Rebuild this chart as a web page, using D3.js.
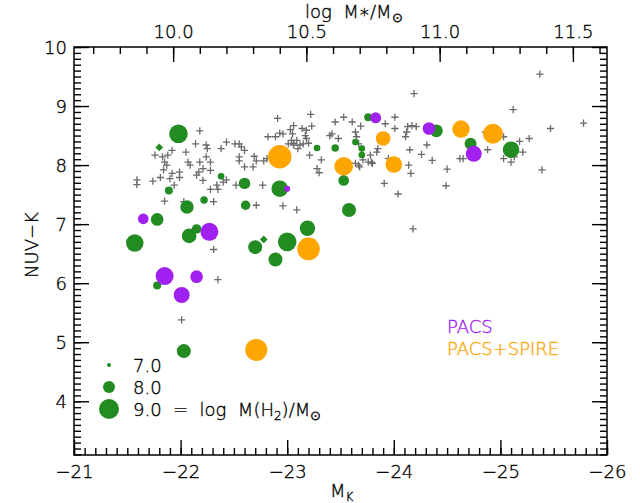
<!DOCTYPE html>
<html><head><meta charset="utf-8">
<script src="https://cdn.jsdelivr.net/npm/d3@7"></script>
<style>
body{margin:0;background:#fff}
svg{display:block}
text{font-family:"DejaVu Sans",sans-serif;font-size:18px;fill:#000;font-weight:300;white-space:pre;stroke:#000;stroke-width:0.35px}
</style>
</head><body>
<script>
// ---- data (M_K, NUV-K, log M(H2)) ----
const crossMK = [-22.18,-22.14,-22.24,-22.25,-22.43,-22.51,-22.55,-22.57,-22.60,-22.38,-22.05,-21.92,-21.76,-21.83,-21.88,-21.85,-21.87,-21.84,-21.92,-21.90,-21.81,-21.74,-21.59,-21.59,-21.94,-21.99,-21.99,-22.07,-22.09,-22.18,-22.24,-22.28,-22.21,-22.17,-22.15,-22.21,-22.28,-22.28,-22.35,-22.34,-22.40,-22.43,-22.52,-22.55,-22.55,-22.60,-22.68,-22.69,-22.71,-22.78,-22.81,-22.82,-22.89,-22.91,-22.77,-21.85,-22.03,-22.31,-22.71,-22.96,-23.09,-22.31,-22.35,-22.01,-23.22,-23.06,-23.03,-23.14,-23.18,-23.23,-22.93,-23.05,-23.17,-23.18,-23.09,-23.06,-23.01,-23.15,-23.20,-23.10,-23.06,-23.21,-23.32,-23.28,-23.30,-23.42,-23.45,-23.48,-23.53,-23.61,-23.69,-23.64,-23.65,-23.67,-23.64,-23.67,-23.71,-23.78,-23.79,-23.84,-23.85,-23.92,-24.01,-24.01,-23.95,-23.91,-24.04,-24.13,-24.17,-24.21,-24.12,-24.11,-24.15,-24.26,-24.31,-24.36,-24.14,-24.16,-24.50,-24.49,-24.19,-23.80,-24.18,-25.37,-25.12,-25.47,-25.78,-25.27,-25.18,-25.21,-25.13,-25.03,-25.10,-24.88,-24.62,-24.65,-25.39,-25.03,-24.86,-22.96,-23.04,-23.12,-23.40,-23.76,-23.68];
const crossNUVK = [8.58,8.36,8.34,8.28,8.39,8.36,8.36,8.31,8.25,8.28,8.22,8.25,8.17,8.14,8.17,8.05,8.00,7.92,7.86,7.77,7.79,7.73,7.75,7.67,7.66,7.88,7.79,8.05,8.00,8.05,8.14,8.05,7.94,7.88,7.83,7.74,7.91,7.59,7.59,7.66,7.71,7.75,7.66,8.14,8.07,7.97,7.97,8.15,8.07,8.07,8.11,8.48,8.48,8.79,7.66,7.39,7.38,7.38,7.32,7.31,7.24,6.57,6.06,5.38,8.86,8.67,8.60,8.62,8.59,8.66,8.54,8.53,8.50,8.45,8.42,8.37,8.36,8.36,8.37,8.28,8.34,8.17,8.09,7.94,7.87,8.53,8.73,8.45,8.81,8.73,8.66,8.56,8.48,8.36,8.03,8.00,8.09,8.17,8.05,8.22,8.28,8.70,8.81,8.62,8.11,7.69,7.51,8.65,8.67,8.65,8.56,8.48,8.26,8.18,8.34,8.08,8.00,7.86,7.93,7.65,9.21,8.03,6.92,9.54,8.94,8.62,8.71,8.45,8.40,8.22,8.14,8.11,8.05,8.26,8.11,8.11,7.92,8.48,8.56,8.53,8.42,8.34,8.50,8.05,7.97];

const greenMK   = [-21.98,-22.38,-21.89,-22.60,-22.06,-22.22,-22.61,-22.93,-23.76,-23.28,-23.45,-23.64,-23.70,-23.70,-24.40,-23.53,-23.58,-24.72,-25.10,-21.78,-21.57,-22.08,-22.15,-21.78,-22.03,-22.70,-23.00,-22.89,-23.19];
const greenNUVK = [8.53,7.81,7.57,7.69,7.29,7.41,7.32,7.60,8.81,8.29,8.29,8.39,8.28,8.17,8.58,7.74,7.24,8.36,8.26,7.08,6.68,6.80,6.92,5.96,4.85,6.61,6.70,6.40,6.93];
const greenH2   = [8.83,7.33,7.50,7.93,8.18,7.43,7.68,8.58,7.50,7.33,7.43,7.33,7.33,7.33,8.08,7.83,8.25,8.00,8.58,8.08,8.68,8.33,7.68,7.50,8.25,8.25,8.83,8.25,8.43];

const limMK   = [-21.80,-22.78];
const limNUVK = [8.30,6.74];

const purpleMK   = [-23.83,-24.33,-23.00,-24.75,-21.65,-22.27,-21.85,-22.15,-22.01];
const purpleNUVK = [8.80,8.62,7.60,8.19,7.09,6.87,6.12,6.11,5.80];
const purpleH2   = [7.88,8.08,7.25,8.50,7.83,8.75,8.75,8.08,8.50];

const orangeMK   = [-22.93,-23.90,-23.53,-24.00,-24.63,-24.93,-23.20,-22.71];
const orangeNUVK = [8.14,8.45,7.98,8.01,8.61,8.53,6.58,4.87];
const orangeH2   = [9.43,8.33,8.83,8.58,8.68,9.00,9.33,9.25];

const xMajor = [-21,-22,-23,-24,-25,-26];
const yMajor = [4,5,6,7,8,9,10];
const massMajor = [10.0,10.5,11.0,11.5];
const legendH2 = [7.0,8.0,9.0];

// ---- layout ----
const W=640,H=503,L=74,R=607,T=47,B=455;
const GREEN="#228B22",PURPLE="#A020F0",ORANGE="#FFA500",GREY="#6a6a6a";

const x = d3.scaleLinear().domain([-21,-26]).range([L,R]);
const y = d3.scaleLinear().domain([3.09,10]).range([B,T]);
const massAt = mk => 1.228 - 0.4*mk;
const xm = d3.scaleLinear().domain([massAt(-21),massAt(-26)]).range([L,R]);
const r = d3.scaleLinear().domain([7,9]).range([2,10]);

const svg = d3.select("body").append("svg").attr("width",W).attr("height",H);

const rnd = v => Math.round(v*10)/10;
const xMinor = d3.range(-21,-26.001,-0.1).map(rnd);
const yMinor = d3.range(3.1,10.001,0.1).map(rnd);
const mMinor = d3.range(9.7,11.62,0.1).map(rnd);

function tickAxis(gen, tx, ty, vals, len){
  const g = svg.append("g").attr("transform",`translate(${tx},${ty})`)
    .call(gen.tickValues(vals).tickSize(len).tickFormat(""));
  g.select(".domain").remove();
  g.selectAll("line").attr("stroke","#000").attr("stroke-width",1.4);
  return g;
}
tickAxis(d3.axisTop(x),0,B,xMinor,7);
tickAxis(d3.axisTop(x),0,B,xMajor,15);
tickAxis(d3.axisBottom(xm),0,T,mMinor,7);
tickAxis(d3.axisBottom(xm),0,T,massMajor,15);
tickAxis(d3.axisRight(y),L,0,yMinor,7);
tickAxis(d3.axisRight(y),L,0,yMajor,15);
tickAxis(d3.axisLeft(y),R,0,yMinor,7);
tickAxis(d3.axisLeft(y),R,0,yMajor,15);

function styleText(g){
  g.select(".domain").remove();
  g.selectAll("text").style("font-size","18px").style("font-family","DejaVu Sans")
    .style("font-weight","300").style("stroke","#000").style("stroke-width","0.35px");
}
const gb = svg.append("g").attr("transform",`translate(0,${B})`)
  .call(d3.axisBottom(x).tickValues(xMajor).tickSize(0).tickFormat(d=>"\u2212"+Math.abs(d)));
styleText(gb); gb.selectAll("text").attr("dy",null).attr("y",23);

const gt = svg.append("g").attr("transform",`translate(0,${T})`)
  .call(d3.axisTop(xm).tickValues(massMajor).tickSize(0).tickFormat(d3.format(".1f")));
styleText(gt); gt.selectAll("text").attr("dy",null).attr("y",-9);

const gl = svg.append("g").attr("transform",`translate(${L},0)`)
  .call(d3.axisLeft(y).tickValues(yMajor).tickSize(0).tickFormat(d3.format("d")));
styleText(gl); gl.selectAll("text").attr("x",-7).attr("dy","0.36em");

svg.append("rect").attr("x",L).attr("y",T).attr("width",R-L).attr("height",B-T)
  .attr("fill","none").attr("stroke","#000").attr("stroke-width",1.5);

// titles
const tt = svg.append("text").attr("x",305).attr("y",18);
tt.append("tspan").text("log  M\u2217/M");
tt.append("tspan").attr("dy",4).style("font-size","13px").text("\u2299");

const bt = svg.append("text").attr("x",330).attr("y",497);
bt.append("tspan").text("M");
bt.append("tspan").attr("dy",4).style("font-size","12px").text("K");

svg.append("text").attr("transform","translate(38,245) rotate(-90)")
  .attr("text-anchor","middle").text("NUV\u2212K");

// ---- marks ----
const plot = svg.append("g");
plot.selectAll("path.cross").data(d3.zip(crossMK,crossNUVK)).join("path").attr("class","cross")
  .attr("d",d=>{const cx=x(d[0]),cy=y(d[1]),s=3.6;return `M${cx-s},${cy}H${cx+s}M${cx},${cy-s}V${cy+s}`;})
  .attr("stroke",GREY).attr("stroke-width",1.3).attr("fill","none");

function circles(mk,nuvk,h2,color){
  plot.append("g").selectAll("circle").data(d3.zip(mk,nuvk,h2)).join("circle")
    .attr("cx",d=>x(d[0])).attr("cy",d=>y(d[1])).attr("r",d=>r(d[2])).attr("fill",color);
}
circles(greenMK,greenNUVK,greenH2,GREEN);
plot.append("g").selectAll("path").data(d3.zip(limMK,limNUVK)).join("path")
  .attr("d",d3.symbol(d3.symbolSquare,30))
  .attr("transform",d=>`translate(${x(d[0])},${y(d[1])}) rotate(45)`).attr("fill",GREEN);
circles(purpleMK,purpleNUVK,purpleH2,PURPLE);
circles(orangeMK,orangeNUVK,orangeH2,ORANGE);

// ---- legend ----
const lg = svg.append("g");
legendH2.forEach((v,i)=>{
  const cy = 365 + 22*i;
  lg.append("circle").attr("cx",109).attr("cy",cy).attr("r",r(v)).attr("fill",GREEN);
  const t = lg.append("text").attr("x",133).attr("y",cy+7);
  t.append("tspan").text(v.toFixed(1));
  if(i===2){
    t.append("tspan").text("  =  log  M(H");
    t.append("tspan").attr("dy",4).style("font-size","12px").text("2");
    t.append("tspan").attr("dy",-4).text(")/M");
    t.append("tspan").attr("dy",4).style("font-size","13px").text("\u2299");
  }
});
svg.append("text").attr("x",447).attr("y",333).style("fill",PURPLE).style("stroke",PURPLE).text("PACS");
svg.append("text").attr("x",447).attr("y",355).style("fill",ORANGE).style("stroke",ORANGE).text("PACS+SPIRE");
</script>
</body></html>
